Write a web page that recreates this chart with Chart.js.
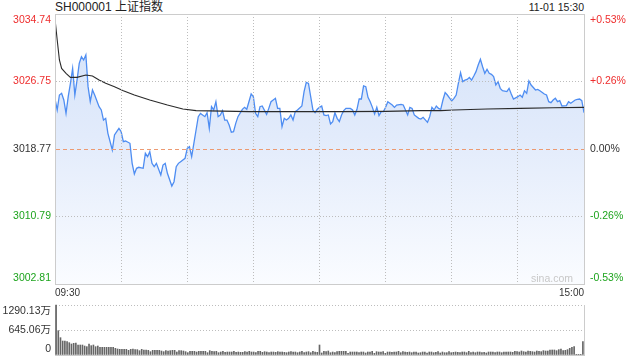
<!DOCTYPE html>
<html>
<head>
<meta charset="utf-8">
<script src="https://cdn.jsdelivr.net/npm/chart.js@4.4.1/dist/chart.umd.min.js"></script>
<style>
  html, body { margin: 0; padding: 0; background: #fff; }
  body { width: 640px; height: 360px; position: relative; overflow: hidden;
         font-family: "Liberation Sans", Arial, "Noto Sans CJK SC", sans-serif; }
  #c1 { position: absolute; left: 0; top: 0; }
  #c2 { position: absolute; left: 0; top: 296px; }
  .txt { position: absolute; white-space: nowrap; line-height: 1; }
  #title { left: 55px; top: 1px; font-size: 12px; color: #222; }
  #stamp { right: 56px; top: 2px; font-size: 10.5px; color: #222; }
  #wm { right: 67px; top: 273px; font-size: 10.5px; color: #c8c8c8; }
</style>
</head>
<body>
<div class="txt" id="title">SH000001 上证指数</div>
<div class="txt" id="stamp">11-01 15:30</div>
<canvas id="c1" width="640" height="300"></canvas>
<canvas id="c2" width="640" height="64"></canvas>
<div class="txt" id="wm">sina.com</div>
<script>
// ---- data ----
const priceMinutes = [0,1,2,3,4,5,6,7,8,9,10,11,12,13,14,15,16,17,18,20,21,22,23,24,26,27,28,29,30,31,32,34,35,36,37,38,40,41,42,43,44,45,46,48,49,50,51,53,54,55,56,57,59,60,61,62,63,64,65,66,68,69,70,71,72,73,74,75,76,77,78,79,80,81,82,83,85,86,87,89,90,91,92,93,94,96,97,98,99,100,101,102,103,104,105,106,107,108,109,110,112,113,114,115,116,117,118,119,120,121,122,123,124,125,126,127,128,129,130,131,132,134,135,136,137,138,139,140,141,142,143,144,145,146,147,148,149,150,151,153,154,155,157,158,160,161,162,163,165,166,167,169,170,171,172,173,174,175,176,177,178,180,181,182,183,184,185,186,187,188,189,190,191,192,193,194,195,196,197,198,199,200,201,202,203,205,206,207,208,210,211,212,213,214,215,216,218,219,220,222,223,224,225,226,227,228,229,230,232,233,234,236,237,238,239,240];
const priceValues = [3024.69,3023.39,3025.16,3025.36,3024.57,3022.99,3024.96,3026.54,3028.31,3025.16,3026.93,3028.91,3029.69,3029.30,3029.89,3026.15,3024.37,3025.75,3025.16,3023.78,3023.39,3022.20,3022.40,3020.63,3018.66,3020.43,3020.83,3021.22,3020.83,3019.64,3019.72,3019.45,3017.08,3015.82,3016.49,3016.61,3016.49,3018.26,3017.87,3018.46,3017.08,3016.69,3017.08,3015.70,3016.88,3017.08,3015.90,3014.40,3014.91,3016.69,3017.08,3017.28,3017.67,3018.85,3019.05,3017.87,3019.45,3021.02,3022.60,3022.99,3022.60,3023.07,3021.22,3023.78,3023.39,3024.37,3022.60,3022.80,3023.31,3022.20,3022.20,3021.61,3020.75,3020.83,3021.81,3022.60,3023.47,3023.70,3023.47,3025.28,3024.96,3022.99,3022.60,3023.78,3023.86,3022.87,3023.58,3024.37,3024.57,3024.77,3023.58,3023.58,3021.42,3022.40,3022.20,3022.40,3022.80,3022.20,3023.19,3023.39,3023.86,3025.56,3026.66,3026.54,3024.96,3023.39,3023.07,3023.47,3023.70,3023.86,3022.80,3022.72,3022.80,3021.73,3022.01,3023.07,3022.40,3022.01,3022.80,3023.31,3023.58,3023.58,3023.39,3022.80,3023.47,3024.69,3024.69,3026.23,3026.15,3024.89,3024.37,3023.70,3022.91,3023.70,3022.72,3023.19,3023.19,3023.70,3024.37,3023.98,3023.70,3023.98,3024.06,3023.98,3022.80,3023.70,3023.58,3022.80,3022.40,3022.32,3022.52,3021.93,3022.60,3023.70,3023.39,3023.86,3023.58,3023.47,3024.57,3025.44,3025.16,3024.45,3024.77,3025.16,3026.54,3027.80,3026.74,3026.93,3027.01,3027.25,3026.93,3027.41,3027.92,3028.71,3029.38,3028.51,3027.72,3028.20,3027.72,3027.60,3027.33,3026.34,3026.74,3025.95,3025.67,3025.56,3025.95,3025.28,3024.69,3024.96,3025.16,3024.89,3025.67,3025.36,3026.82,3026.34,3025.75,3025.83,3025.67,3025.28,3025.16,3024.37,3024.25,3024.57,3024.77,3024.37,3024.49,3023.86,3023.90,3024.37,3024.18,3024.57,3024.65,3024.69,3024.49,3023.07];
const avgMinutes = [0,1,2,3,5,7,10,14,17,20,23,27,31,36,43,51,58,64,88,130,150,166,175,181,196,211,226,240];
const avgValues = [3034.15,3031.67,3029.30,3028.31,3027.72,3027.25,3027.25,3027.53,3027.41,3026.93,3026.54,3026.15,3025.67,3025.16,3024.57,3023.98,3023.51,3023.31,3023.19,3023.19,3023.23,3023.31,3023.31,3023.39,3023.51,3023.58,3023.66,3023.70];
const volumeValues = [
1290,628,447,361,361,344,318,284,301,310,
258,258,258,232,215,284,241,258,215,232,
198,198,198,198,198,198,198,172,155,146,
146,146,146,120,146,155,138,138,112,146,
129,129,120,86,120,120,120,120,103,86,
112,103,112,120,120,77,112,112,103,86,
60,95,95,95,77,95,95,95,95,60,
112,95,86,95,60,77,95,69,77,77,
77,95,69,77,69,69,86,77,95,77,
77,60,95,95,69,86,77,60,77,77,
69,86,77,77,69,60,77,86,77,77,
60,77,95,60,77,86,60,95,77,69,
258,52,95,86,103,60,77,60,86,95,
95,95,95,43,77,77,77,77,60,77,
77,52,77,77,95,43,86,77,77,86,
43,77,77,69,77,77,95,60,86,77,
69,77,60,77,77,52,60,77,77,52,
77,77,60,69,86,52,77,60,60,86,
60,69,77,69,60,77,77,60,95,60,
77,60,77,77,60,69,52,77,77,77,
60,77,77,60,77,77,77,77,69,95,
86,77,103,86,77,103,95,86,77,103,
95,86,112,103,103,129,129,129,112,138,
155,112,120,138,172,198,215,17,17,17,
344];
const priceTicks = [3002.81, 3010.79, 3018.77, 3026.75, 3034.74];
const percentLabels = ['-0.53%', '-0.26%', '0.00%', '+0.26%', '+0.53%'];
const prevClose = 3018.77;
const timeTicks = [0, 30, 60, 90, 120, 150, 180, 210, 240];
const timeTickLabels = ['09:30', '', '', '', '', '', '', '', '15:00'];
const volumeTicks = [0, 645.06, 1290.13];
const volumeTickLabels = ['0', '645.06万', '1290.13万'];

// ---- styling ----
const FONT = '"Liberation Sans", Arial, "Noto Sans CJK SC", sans-serif';
const RED = '#ee2d2d', GREEN = '#1ea41e', DARK = '#333333', FRAME = '#cccccc', DOT = '#bdbdbd';
Chart.defaults.font.family = FONT;
Chart.defaults.font.size = 10.5;
Chart.defaults.animation = false;

function tickColor(v) {
  if (Math.abs(v - prevClose) < 0.005) return DARK;
  return v > prevClose ? RED : GREEN;
}
// first / last labels are tucked inside the plot box (pushed by an empty line)
function innerLabel(text, i, n) {
  if (i === 0) return [text, ''];
  if (i === n - 1) return ['', text];
  return text;
}
function fixSize(dim, val) {
  return (s) => {
    s[dim] = val;
    s.paddingTop = 0; s.paddingBottom = 0; s.paddingLeft = 0; s.paddingRight = 0;
  };
}

new Chart(document.getElementById('c1'), {
  type: 'line',
  data: {
    datasets: [
      {
        label: 'avg',
        data: avgMinutes.map((m, i) => ({ x: m, y: avgValues[i] })),
        borderColor: '#2a2a2a', borderWidth: 1.1, pointRadius: 0, fill: false, tension: 0, order: 0
      },
      {
        label: 'price',
        data: priceMinutes.map((m, i) => ({ x: m, y: priceValues[i] })),
        borderColor: '#4e8df2', borderWidth: 1.3, pointRadius: 0, tension: 0, order: 1,
        fill: 'start',
        backgroundColor: (c) => {
          const ca = c.chart.chartArea;
          if (!ca) return 'rgba(214,228,250,0.8)';
          const g = c.chart.ctx.createLinearGradient(0, ca.top, 0, ca.bottom);
          g.addColorStop(0, '#d3e2fa');
          g.addColorStop(0.45, '#e2ebfb');
          g.addColorStop(1, '#fafcff');
          return g;
        }
      }
    ]
  },
  options: {
    responsive: false, devicePixelRatio: 1, animation: false,
    layout: { padding: { top: 14, left: 0, right: 0, bottom: 0 } },
    plugins: { legend: { display: false }, tooltip: { enabled: false } },
    scales: {
      x: {
        type: 'linear', position: 'bottom', min: 0, max: 240,
        afterBuildTicks: (s) => { s.ticks = timeTicks.map(v => ({ value: v })); },
        afterFit: fixSize('height', 16),
        ticks: {
          autoSkip: false, maxRotation: 0, align: 'inner', padding: 3, color: DARK,
          font: { size: 10 },
          callback: (v, i) => timeTickLabels[i]
        },
        grid: {
          z: 1, drawTicks: false, lineWidth: 1,
          color: (c) => (c.index === 0 || c.index === timeTicks.length - 1) ? 'rgba(0,0,0,0)' : DOT
        },
        border: { display: true, color: FRAME, z: 2, dash: (c) => c.type === 'tick' ? [1, 2] : [] }
      },
      xTop: {
        type: 'linear', position: 'top', min: 0, max: 240,
        afterFit: fixSize('height', 0),
        ticks: { display: false },
        grid: { display: false, drawTicks: false },
        border: { display: true, color: FRAME, z: 2 }
      },
      y: {
        type: 'linear', position: 'left', min: priceTicks[0], max: priceTicks[priceTicks.length - 1],
        afterBuildTicks: (s) => { s.ticks = priceTicks.map(v => ({ value: v })); },
        afterFit: fixSize('width', 55),
        ticks: {
          autoSkip: false, padding: 4,
          color: (c) => tickColor(c.tick.value),
          callback: (v, i) => innerLabel(priceTicks[i].toFixed(2), i, priceTicks.length)
        },
        grid: {
          z: 1, drawTicks: false, lineWidth: 1,
          color: (c) => {
            if (c.index === 0 || c.index === priceTicks.length - 1) return 'rgba(0,0,0,0)';
            return c.index === 2 ? '#ec9a72' : DOT;
          }
        },
        border: {
          display: true, color: FRAME, z: 2,
          dash: (c) => c.type === 'tick' ? (c.index === 2 ? [4, 3] : [1, 2]) : []
        }
      },
      yPct: {
        type: 'linear', position: 'right', min: priceTicks[0], max: priceTicks[priceTicks.length - 1],
        afterBuildTicks: (s) => { s.ticks = priceTicks.map(v => ({ value: v })); },
        afterFit: fixSize('width', 56),
        ticks: {
          autoSkip: false, padding: 6,
          color: (c) => tickColor(c.tick.value),
          callback: (v, i) => innerLabel(percentLabels[i], i, percentLabels.length)
        },
        grid: { display: false, drawTicks: false },
        border: { display: true, color: FRAME, z: 2 }
      }
    }
  }
});

new Chart(document.getElementById('c2'), {
  type: 'bar',
  data: {
    datasets: [{
      label: 'volume',
      data: volumeValues.map((v, i) => ({ x: i, y: v })),
      backgroundColor: '#666666', borderWidth: 0,
      barThickness: 1, clip: false
    }]
  },
  options: {
    responsive: false, devicePixelRatio: 1, animation: false,
    layout: { padding: { top: 9, left: 0, right: 0, bottom: 0 } },
    plugins: { legend: { display: false }, tooltip: { enabled: false } },
    scales: {
      x: {
        type: 'linear', position: 'bottom', min: -0.5, max: 240.5, offset: false,
        afterFit: fixSize('height', 5),
        ticks: { display: false },
        grid: { display: false, drawTicks: false },
        border: { display: true, color: FRAME }
      },
      y: {
        type: 'linear', position: 'left', min: 0, max: volumeTicks[volumeTicks.length - 1],
        afterBuildTicks: (s) => { s.ticks = volumeTicks.map(v => ({ value: v })); },
        afterFit: fixSize('width', 55),
        ticks: {
          autoSkip: false, padding: 4, color: DARK,
          callback: (v, i) => innerLabel(volumeTickLabels[i], i, volumeTickLabels.length)
        },
        grid: {
          drawTicks: false, lineWidth: 1,
          color: (c) => c.index === 0 ? 'rgba(0,0,0,0)' : DOT
        },
        border: { display: true, color: FRAME, dash: (c) => c.type === 'tick' ? [1, 2] : [] }
      },
      yR: {
        type: 'linear', position: 'right', min: 0, max: volumeTicks[volumeTicks.length - 1],
        afterFit: fixSize('width', 56),
        ticks: { display: false },
        grid: { display: false, drawTicks: false },
        border: { display: true, color: FRAME }
      }
    }
  }
});
</script>
</body>
</html>
